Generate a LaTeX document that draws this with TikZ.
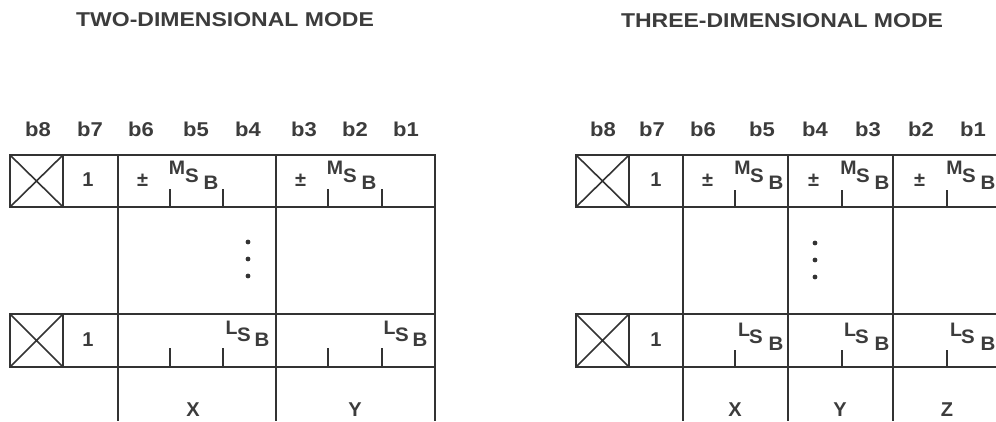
\documentclass[tikz,border=0pt]{standalone}
\usepackage{fontspec}
\setmainfont{Liberation Sans}
\definecolor{ink}{HTML}{333333}
\definecolor{tink}{HTML}{3C3C3C}
\newcommand{\hstr}[2]{\scalebox{#1}[1]{#2}}
\begin{document}
\begin{tikzpicture}[x=1pt,y=-1pt,
  ln/.style={draw=ink,line width=1.6pt},
  tk/.style={draw=ink,line width=1.4pt},
  lab/.style={inner sep=0pt,text=tink,font=\bfseries\fontsize{20}{20}\selectfont},
  sm/.style={inner sep=0pt,text=tink,font=\bfseries\fontsize{19.5}{19.5}\selectfont},
  dot/.style={fill=ink}]
\useasboundingbox[fill=white] (0,0) rectangle (996,421);
\clip (0,0) rectangle (996,421);

% ---------- titles ----------
\node[lab] (t2) at (225,20) {\hstr{1.15}{TWO-DIMENSIONAL MODE}};
\node[lab] (t3) at (782,21) {\hstr{1.15}{THREE-DIMENSIONAL MODE}};

% ---------- left bit labels ----------
\foreach \n/\x in {8/38,7/90,6/141,5/196,4/248,3/304,2/355,1/406}
  \node[lab] (lb\n) at (\x,129) {\hstr{1.1}{b\n}};
% ---------- right bit labels ----------
\foreach \n/\x in {8/603,7/652,6/703,5/762,4/815,3/868,2/921,1/973}
  \node[lab] (rb\n) at (\x,129) {\hstr{1.1}{b\n}};

% ---------- left grid ----------
\draw[ln] (10,155) rectangle (435,207);
\draw[ln] (10,314) rectangle (435,367);
\draw[ln] (10,155) -- (63,207) (63,155) -- (10,207);
\draw[ln] (10,314) -- (63,367) (63,314) -- (10,367);
\draw[ln] (63,155) -- (63,207) (63,314) -- (63,367);
\draw[ln] (118,155) -- (118,421) (276,155) -- (276,421) (435,155) -- (435,421);
% ticks
\foreach \x in {170,223,328,382} {
  \draw[tk] (\x,189) -- (\x,207);
  \draw[tk] (\x,348) -- (\x,367);
}
% texts
\node[lab] (l1a) at (88,180) {1};
\node[lab] (l1b) at (88,340) {1};
\foreach \o/\c in {0/x,158/y} {
  \node[lab] (lpm\c) at (142.5+\o,180) {\textpm};
  \node[sm] (lM\c) at (177+\o,168) {M};
  \node[sm] (lS\c) at (192+\o,176) {\hstr{1.05}{S}};
  \node[sm] (lB\c) at (211+\o,183) {\hstr{1.05}{B}};
  \node[sm] (lL\c) at (231.5+\o,327.5) {L};
  \node[sm] (lSl\c) at (244+\o,335) {\hstr{1.05}{S}};
  \node[sm] (lBl\c) at (262+\o,340) {\hstr{1.05}{B}};
}
\fill[dot] (248,242) circle (2.4) (248,259) circle (2.4) (248,276) circle (2.4);
\node[lab] (lX) at (193,410) {X};
\node[lab] (lY) at (355,410) {Y};

% ---------- right grid ----------
\draw[ln] (576,155) rectangle (1000,207);
\draw[ln] (576,314) rectangle (1000,367);
\draw[ln] (576,155) -- (629,207) (629,155) -- (576,207);
\draw[ln] (576,314) -- (629,367) (629,314) -- (576,367);
\draw[ln] (629,155) -- (629,207) (629,314) -- (629,367);
\draw[ln] (683,155) -- (683,421) (788,155) -- (788,421) (893,155) -- (893,421) (999,155) -- (999,421);
\foreach \x in {735,842,947} {
  \draw[tk] (\x,190) -- (\x,207);
  \draw[tk] (\x,350) -- (\x,367);
}
\node[lab] (r1a) at (656,180) {1};
\node[lab] (r1b) at (656,340) {1};
\foreach \o/\c in {0/x,106/y,212/z} {
  \node[lab] (rpm\c) at (707.5+\o,180) {\textpm};
  \node[sm] (rM\c) at (742.5+\o,168) {M};
  \node[sm] (rS\c) at (757+\o,176) {\hstr{1.05}{S}};
  \node[sm] (rB\c) at (776+\o,183) {\hstr{1.05}{B}};
  \node[sm] (rL\c) at (744+\o,330) {L};
  \node[sm] (rSl\c) at (756+\o,337) {\hstr{1.05}{S}};
  \node[sm] (rBl\c) at (776+\o,344) {\hstr{1.05}{B}};
}
\fill[dot] (815,243) circle (2.4) (815,260) circle (2.4) (815,277) circle (2.4);
\node[lab] (rX) at (735,410) {X};
\node[lab] (rY) at (840,410) {Y};
\node[lab] (rZ) at (947,410) {Z};
\end{tikzpicture}
\end{document}
